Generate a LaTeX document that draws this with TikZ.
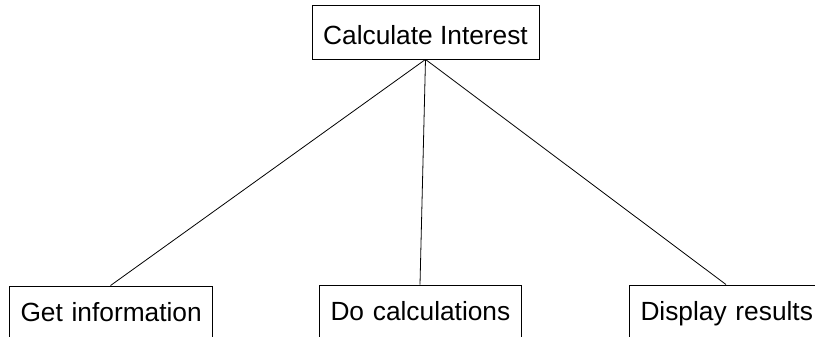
\documentclass[tikz,border=0pt]{standalone}
\usepackage{fontspec}
\setmainfont{Liberation Sans}
\begin{document}
\begin{tikzpicture}[x=1pt,y=1pt,
  box/.style={draw=black, line width=0.9pt, fill=white, inner ysep=0pt,
    minimum height=54pt, font=\fontsize{26.3}{30}\selectfont, text=black},
  topbox/.style={box, inner xsep=0pt, text height=26pt, text depth=0pt},
  leafbox/.style={box, inner xsep=11.5pt, text height=20pt, text depth=2pt,
    align=left},
  link/.style={draw=black, line width=0.8pt}]
\useasboundingbox (0,0) rectangle (815,337);
\clip (0,0) rectangle (815,337);
\fill[white] (0,0) rectangle (815,337);
\node[topbox, minimum width=227pt] (top) at (425.5,305) {Calculate Interest};
\node[leafbox, text width=180pt] (get) at (110.5,24) {\mbox{Get information}};
\node[leafbox, text width=179pt] (do) at (420,25) {\mbox{Do calculations}};
\node[leafbox, text width=180pt] (disp) at (730.5,25) {\mbox{Display results}};
\draw[link] (top.south) -- (get.north);
\draw[link] (top.south) -- (do.north);
\draw[link] (top.south) -- ([xshift=-4.5pt]disp.north);
\end{tikzpicture}
\end{document}
